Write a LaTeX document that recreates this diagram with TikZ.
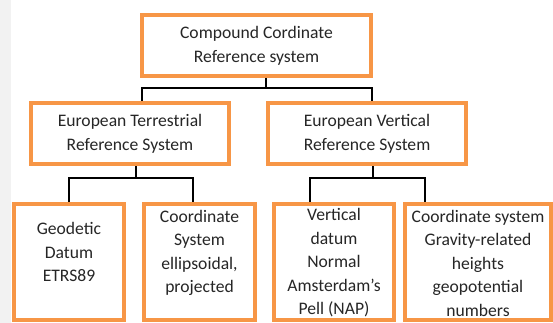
\documentclass[tikz,border=0pt]{standalone}
\usepackage{fontspec}
\setmainfont{Carlito}
\definecolor{boxorange}{HTML}{F79646}
\definecolor{txtgray}{HTML}{262626}
\begin{document}
\begin{tikzpicture}[x=1pt,y=-1pt,
  box/.style={draw=boxorange,line width=4pt,fill=white,inner sep=0pt,rectangle},
  txt/.style={font=\fontsize{17.6}{24}\selectfont,text=txtgray,align=center,inner sep=0pt},
  txtb/.style={font=\fontsize{17.6}{23.5}\selectfont,text=txtgray,align=center,inner sep=0pt},
  conn/.style={draw=black,line width=2.6pt}]
\useasboundingbox (0,0) rectangle (553,323);
\fill[gray!10] (0,0) rectangle (11,323);
% boxes
\node[box,minimum width=229pt,minimum height=61pt] (top) at (256.5,45.5) {};
\node[txt] (toptxt) at (top.center) {Compound Cordinate\\Reference system};
\node[box,minimum width=198pt,minimum height=61pt] (ml) at (130,133.5) {};
\node[txt] (mltxt) at (ml.center) {European Terrestrial\\Reference System};
\node[box,minimum width=198pt,minimum height=61pt] (mr) at (367,133.5) {};
\node[txt] (mrtxt) at (mr.center) {European Vertical\\Reference System};
\node[box,minimum width=110pt,minimum height=116pt] (b1) at (69,262) {};
\node[txtb] (b1txt) at ([yshift=10pt]b1.center) {Geodetic\\Datum\\ETRS89};
\node[box,minimum width=111pt,minimum height=116pt] (b2) at (199.5,262) {};
\node[txtb] (b2txt) at ([yshift=9pt]b2.center) {Coordinate\\System\\ellipsoidal,\\projected};
\node[box,minimum width=120pt,minimum height=116pt] (b3) at (334,262) {};
\node[txtb] (b3txt) at ([yshift=-1pt]b3.center) {Vertical\\datum\\Normal\\Amsterdam’s\\Pell (NAP)};
\node[box,minimum width=146pt,minimum height=116pt] (b4) at (478,262) {};
\node[txtb] (b4txt) at ([yshift=-1pt]b4.center) {Coordinate system\\Gravity-related\\heights\\geopotential\\numbers};
% connector junctions
\coordinate (j0) at (266,88);
\coordinate (j0l) at (142,88);
\coordinate (j0r) at (372,88);
\coordinate (j1) at (136,178);
\coordinate (j1l) at (69,178);
\coordinate (j1r) at (193,178);
\coordinate (j2) at (373,178);
\coordinate (j2l) at (310,178);
\coordinate (j2r) at (425,178);
% connectors
\draw[conn] (top.south -| j0) -- (j0);
\draw[conn] (ml.north -| j0l) -- (j0l) -- (j0r) -- (mr.north -| j0r);
\draw[conn] (ml.south -| j1) -- (j1);
\draw[conn] (b1.north -| j1l) -- (j1l) -- (j1r) -- (b2.north -| j1r);
\draw[conn] (mr.south -| j2) -- (j2);
\draw[conn] (b3.north -| j2l) -- (j2l) -- (j2r) -- (b4.north -| j2r);
\end{tikzpicture}
\end{document}
